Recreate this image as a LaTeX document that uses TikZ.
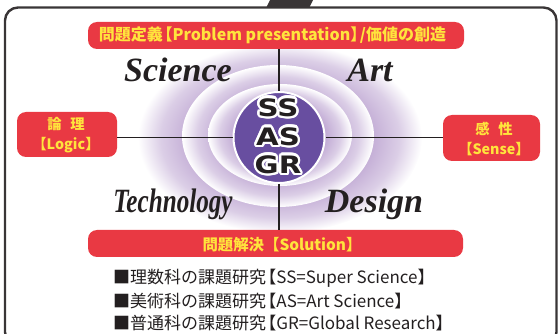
\documentclass[tikz,border=0pt]{standalone}
\usepackage{fontspec}
\usepackage{graphicx}
\setmainfont{Liberation Serif}
\newfontfamily\jp{Noto Sans CJK JP}
\newfontfamily\ssfont{DejaVu Sans}
\usetikzlibrary{calc}
\definecolor{ink}{RGB}{35,31,32}
\definecolor{boxred}{RGB}{233,57,67}
\definecolor{boxyel}{RGB}{255,228,60}
\definecolor{corecol}{RGB}{104,78,160}
\definecolor{lav}{RGB}{190,166,210}
\newcommand\lbk{\hspace{-0.4em}【}
\newcommand\rbk{】\hspace{-0.4em}}
\pgfdeclareradialshading{ringshade}{\pgfpointorigin}{color(0bp)=(lav); color(15bp)=(lav); color(21bp)=(lav!55!white); color(25bp)=(white); color(50bp)=(white)}
\tikzset{
  banner/.style={fill=boxred, rounded corners=9, inner sep=0, minimum height=27},
  ylwtext/.style={text=boxyel, inner sep=0},
  conn/.style={draw=ink, line width=1.5},
  word/.style={font=\fontsize{34}{34}\selectfont\bfseries\itshape, text=ink, anchor=base, inner sep=0},
  coretext/.style={font=\ssfont\bfseries\fontsize{24}{24}\selectfont, text=ink, inner sep=0},
  note/.style={font=\jp\fontsize{17}{20}\selectfont, text=ink, anchor=west, inner sep=0}
}
\begin{document}
\begin{tikzpicture}[x=1pt,y=-1pt]
\useasboundingbox (0,0) rectangle (558,334);
% frame
\draw[line width=2.4, draw=ink!90, rounded corners=13] (5,7.5) rectangle (556.5,345);
\fill[ink!90] (266,8) -- (271,-2) -- (314,-2) -- (309,8) -- cycle;
% rings
\shade[shading=ringshade] (280,138) ellipse [x radius=142, y radius=95];
\shade[shading=ringshade] (278,136) ellipse [x radius=96, y radius=71];
\shade[shading=ringshade] (280,135) ellipse [x radius=72, y radius=51];
% banners
\node[banner, minimum width=376] (prob) at (276,35.5) {};
\node[ylwtext, font=\jp\bfseries\fontsize{16}{18}\selectfont] (probt) at (272.5,35.5) {問題定義\lbk Problem presentation\rbk/価値の創造};
\node[banner, minimum width=100, minimum height=45] (logic) at (67,134.5) {};
\node[ylwtext, align=center, font=\jp\bfseries\fontsize{14.3}{20}\selectfont] (logict) at (66,135) {論\hspace{0.6em}理\\【Logic】};
\node[banner, minimum width=97, minimum height=46] (sense) at (491.5,138) {};
\node[ylwtext, align=center, font=\jp\bfseries\fontsize{14.3}{20}\selectfont] (senset) at (494,138.5) {感\hspace{0.6em}性\\【Sense】};
\node[banner, minimum width=375] (sol) at (275.5,243.5) {};
\node[ylwtext, font=\jp\bfseries\fontsize{15.4}{17}\selectfont] (solt) at (282,244.5) {問題解決【Solution】};
% core
\node[circle, fill=corecol, draw=white, line width=2, minimum size=91, inner sep=0] (core) at (279,137.5) {};
\draw[conn] (core.north |- prob.south) -- (core.north);
\draw[conn] (core.south) -- (core.south |- sol.north);
\draw[conn] (core.west) -- (core.west -| logic.east);
\draw[conn] (core.east) -- (core.east -| sense.west);
\foreach \t/\yy [count=\i] in {SS/107.5,AS/136.5,GR/164.5}{
  \foreach \a in {0,24,...,336}{
    \node[coretext, text=white] (halo\i-\a) at ($(278,\yy)+(\a:2.4)$) {\scalebox{1.22}[1]{\t}};
  }
  \node[coretext] (coret\i) at (278,\yy) {\scalebox{1.22}[1]{\t}};
}
% words
\node[word] (sci) at (178,82) {Science};
\node[word] (art) at (370,82) {Art};
\node[word] (tech) at (173,213) {\scalebox{0.74}[1]{Technology}};
\node[word] (des) at (374,213) {Design};
% notes
\node[note] (n1) at (113,278.5) {■理数科の課題研究\lbk SS=Super Science\rbk};
\node[note] (n2) at (113,301) {■美術科の課題研究\lbk AS=Art Science\rbk};
\node[note] (n3) at (113,323.5) {■普通科の課題研究\lbk GR=Global Research\rbk};
\end{tikzpicture}
\end{document}
